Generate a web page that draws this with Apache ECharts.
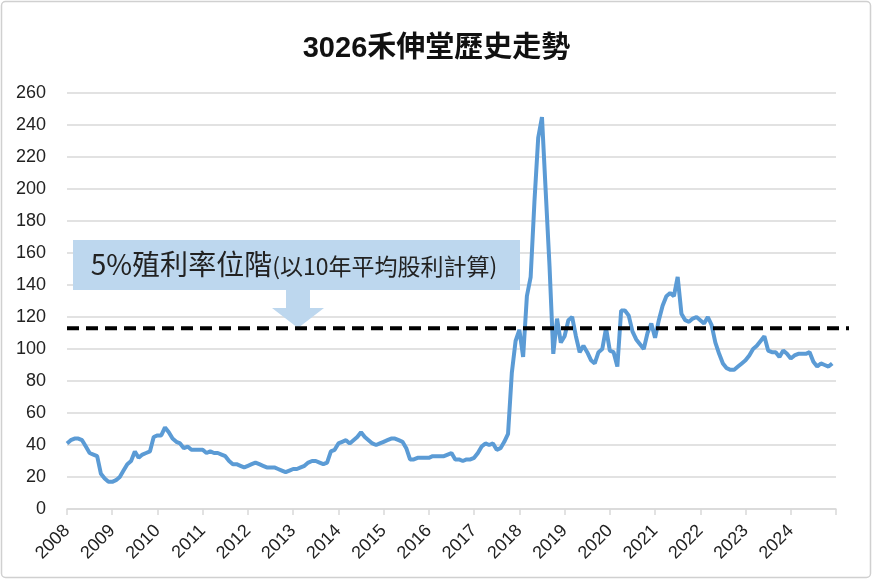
<!DOCTYPE html>
<html>
<head>
<meta charset="utf-8">
<script src="https://cdn.jsdelivr.net/npm/echarts@6/dist/echarts.min.js"></script>
<style>
    html, body { margin: 0; padding: 0; background: #fff; }
    #chart { width: 873px; height: 580px; }
</style>
</head>
<body>
<div id="chart"></div>
<script>
const years = [2008, 2009, 2010, 2011, 2012, 2013, 2014, 2015, 2016,
               2017, 2018, 2019, 2020, 2021, 2022, 2023, 2024];

// monthly closing price, one row per year
const price = [
    41, 43, 44, 44, 43, 39, 35, 34, 33, 22, 19, 17,
    17, 18, 20, 24, 28, 30, 36, 32, 34, 35, 36, 45,
    46, 46, 51, 48, 44, 42, 41, 38, 39, 37, 37, 37,
    37, 35, 36, 35, 35, 34, 33, 30, 28, 28, 27, 26,
    27, 28, 29, 28, 27, 26, 26, 26, 25, 24, 23, 24,
    25, 25, 26, 27, 29, 30, 30, 29, 28, 29, 36, 37,
    41, 42, 43, 41, 43, 45, 48, 45, 43, 41, 40, 41,
    42, 43, 44, 44, 43, 42, 38, 31, 31, 32, 32, 32,
    32, 33, 33, 33, 33, 34, 35, 31, 31, 30, 31, 31,
    32, 35, 39, 41, 40, 41, 37, 38, 42, 47, 85, 105,
    112, 95, 133, 145, 192, 232, 245, 198, 152, 97, 119, 104,
    108, 118, 120, 108, 98, 102, 98, 93, 91, 98, 100, 113,
    99, 98, 89, 124, 124, 121, 111, 106, 103, 100, 110, 116,
    107, 118, 127, 133, 135, 133, 145, 122, 118, 117, 119, 120,
    118, 116, 120, 115, 104, 97, 91, 88, 87, 87, 89, 91,
    93, 96, 100, 102, 105, 108, 99, 98, 98, 95, 99, 97,
    94, 96, 97, 97, 97, 98, 92, 89, 91, 90, 89, 91
];

// 5% yield level (10-year average dividend)
const yieldLevel = 113;

const titleText = "3026禾伸堂歷史走勢";
const noteMain = "5%殖利率位階";
const noteSub = "(以10年平均股利計算)";

const months = [];
years.forEach(y => {
    for (let m = 1; m <= 12; m++) {
        months.push(y + "/" + String(m).padStart(2, "0"));
    }
});
// closing tick at the start of the next year
months.push((years[years.length - 1] + 1) + "/01");
const values = price.concat([null]);

const chart = echarts.init(document.getElementById("chart"));

const option = {
    animation: false,
    title: {
        text: titleText,
        left: "center",
        top: 29,
        textStyle: {
            fontSize: 29,
            fontWeight: "bold",
            color: "#111",
            fontFamily: "Liberation Sans, Noto Sans CJK TC"
        }
    },
    grid: {
        left: 67,
        right: 37,
        top: 93,
        bottom: 71
    },
    xAxis: {
        type: "category",
        data: months,
        boundaryGap: false,
        axisLine: { lineStyle: { color: "#d9d9d9", width: 1.5 } },
        axisTick: {
            interval: i => i % 12 === 0,
            length: 6,
            lineStyle: { color: "#d9d9d9", width: 1.5 }
        },
        axisLabel: {
            interval: i => i % 12 === 0 && i < price.length,
            formatter: v => v.slice(0, 4),
            rotate: 45,
            margin: 19,
            fontSize: 18,
            color: "#222",
            fontFamily: "Liberation Sans"
        },
        splitLine: { show: false }
    },
    yAxis: {
        type: "value",
        min: 0,
        max: 260,
        interval: 20,
        axisLine: { show: false },
        axisTick: { show: false },
        axisLabel: {
            margin: 21,
            fontSize: 18,
            color: "#222",
            fontFamily: "Liberation Sans"
        },
        splitLine: { lineStyle: { color: "#d9d9d9", width: 1.5 } }
    },
    series: [
        {
            type: "line",
            data: values,
            symbol: "none",
            lineStyle: { color: "#5b9bd5", width: 4 },
            z: 3
        }
    ]
};

chart.setOption(option);

const lineY = chart.convertToPixel({ yAxisIndex: 0 }, yieldLevel);

chart.setOption({
    graphic: [
        {
            type: "rect",
            shape: { x: 1.5, y: 1.5, width: 869, height: 576, r: 4 },
            style: { fill: null, stroke: "#d0d0d0", lineWidth: 1.5 },
            silent: true
        },
        {
            type: "rect",
            shape: { x: 73, y: 240, width: 447, height: 50 },
            style: { fill: "#bdd7ee" },
            z: 10
        },
        {
            type: "polygon",
            shape: {
                points: [[286, 290], [310, 290], [310, 308], [324, 308],
                         [298, 328], [272, 308], [286, 308]]
            },
            style: { fill: "#bdd7ee" },
            z: 10
        },
        {
            type: "text",
            x: 294,
            y: 264,
            style: {
                text: "{a|" + noteMain + "}{b|" + noteSub + "}",
                align: "center",
                verticalAlign: "middle",
                fill: "#222",
                rich: {
                    a: { fontSize: 28, fontFamily: "Noto Sans CJK TC", fill: "#222", verticalAlign: "bottom" },
                    b: { fontSize: 23, fontFamily: "Noto Sans CJK TC", fill: "#222", verticalAlign: "bottom" }
                }
            },
            z: 11
        },
        {
            type: "line",
            shape: { x1: 67, y1: lineY, x2: 849, y2: lineY },
            style: { stroke: "#000", lineWidth: 4, lineDash: [12, 7] },
            z: 12
        }
    ]
});
</script>
</body>
</html>
